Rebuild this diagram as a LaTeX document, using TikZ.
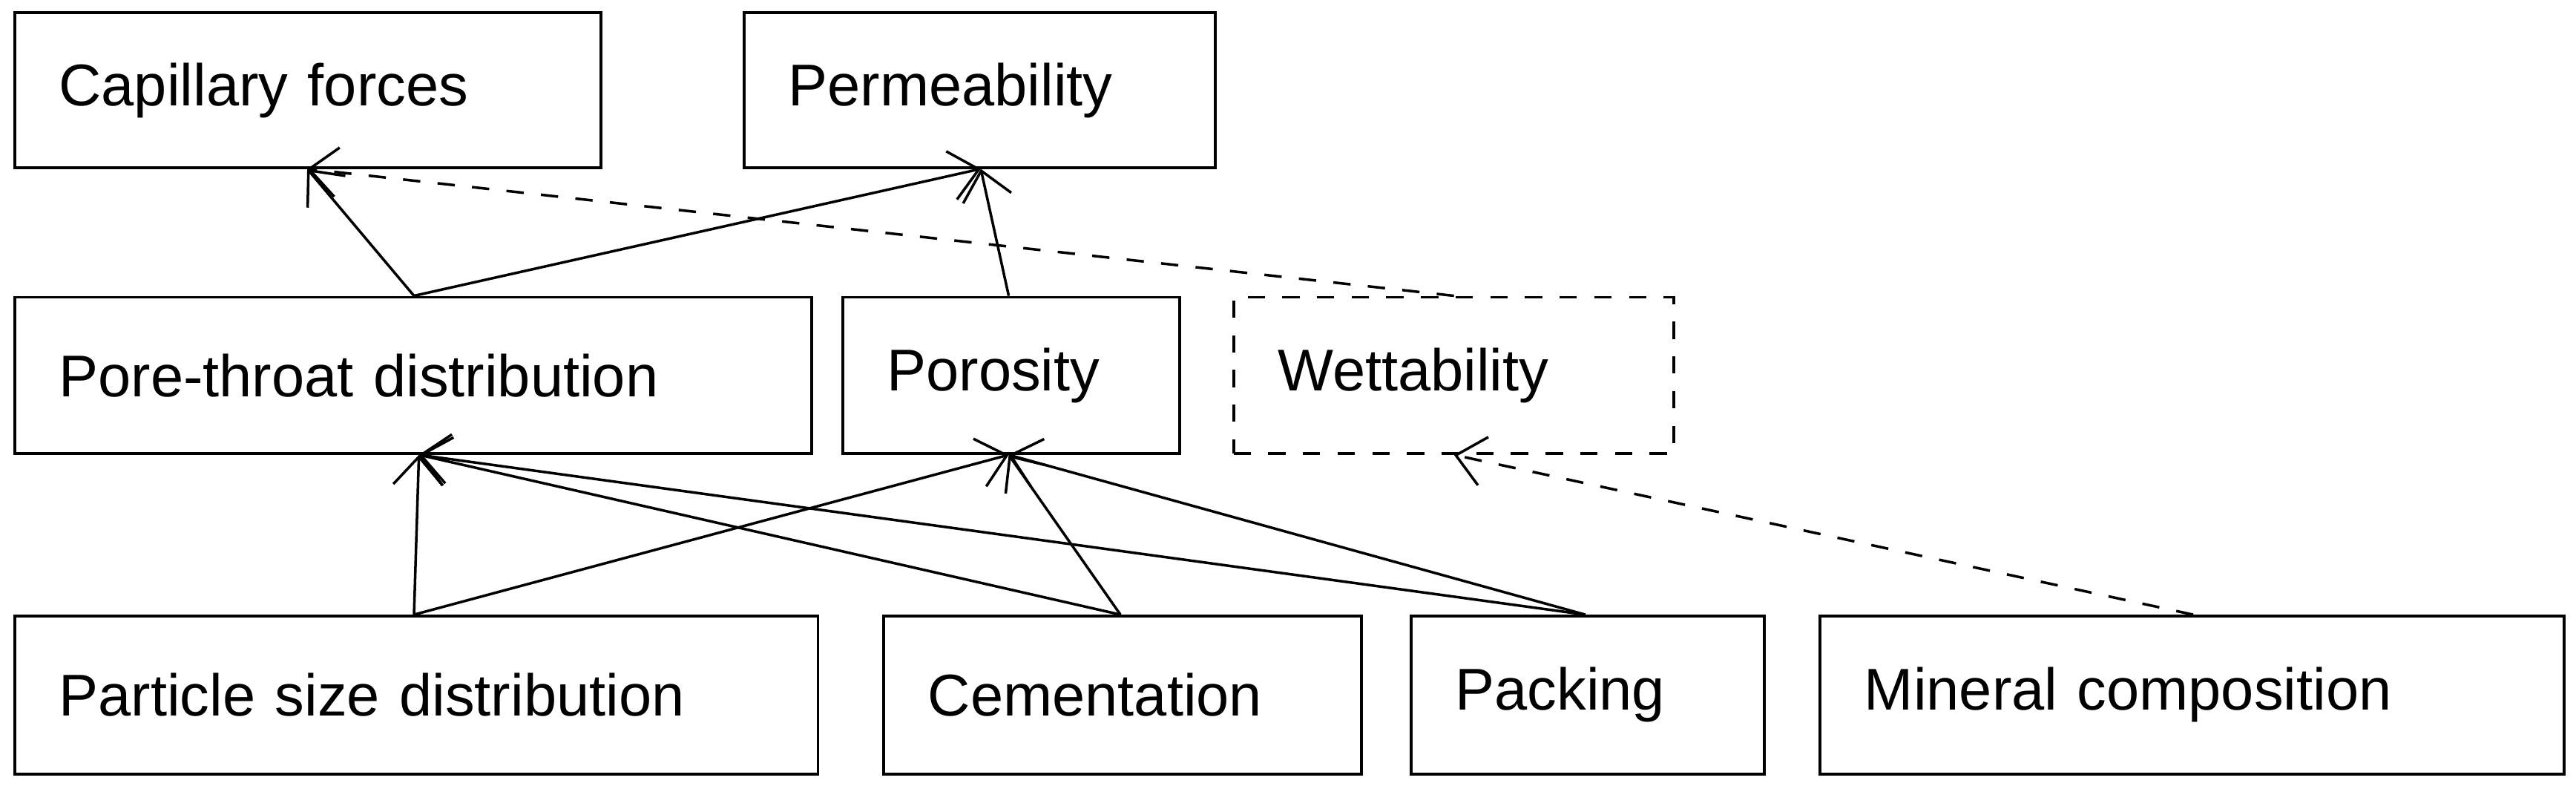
\documentclass[tikz,border=0pt]{standalone}
\usepackage{fontspec}
\setmainfont{Liberation Sans}
\usetikzlibrary{arrows.meta}
\begin{document}
\begin{tikzpicture}[x=0.01cm,y=-0.01cm,
  box/.style={draw,line width=0.5pt,anchor=north west,minimum height=0.94cm,inner xsep=0.27cm,align=left,font=\fontsize{10.2}{12}\selectfont},
  dbox/.style={box,dashed},
  arr/.style={line width=0.45pt,-{Straight Barb[length=0.17cm,width=0.3cm]}},
  darr/.style={arr,dashed}]
\useasboundingbox (0,0) rectangle (1568,480);
\newcommand{\bx}[7]{\node[#1,text width={(#5-#3)*0.01cm-0.54cm},minimum height={(#6-#4)*0.01cm}] (#2) at (#3,#4) {#7};}
\bx{box}{cap}{8}{7}{365}{101}{Capillary forces}
\bx{box}{perm}{452}{7}{739}{101}{Permeability}
\bx{box}{pore}{8}{180}{493}{275}{Pore-throat distribution}
\bx{box}{poro}{512}{180}{717}{275}{Porosity}
\bx{dbox}{wet}{750}{180}{1018}{275}{Wettability}
\bx{box}{part}{8}{374}{497}{470}{Particle size distribution}
\bx{box}{cem}{537}{374}{828}{470}{Cementation}
\bx{box}{pack}{858}{374}{1073}{470}{Packing}
\bx{box}{min}{1107}{374}{1560}{470}{Mineral composition}
\coordinate (capB) at (cap.south -| 187,0);
\coordinate (permB) at (perm.south -| 597,0);
\coordinate (poreT) at (pore.north -| 252,0);
\coordinate (poreB) at (pore.south -| 255,0);
\coordinate (poroT) at (poro.north -| 614,0);
\coordinate (poroB) at (poro.south -| 614,0);
\coordinate (wetT) at (wet.north -| 885,0);
\coordinate (wetB) at (wet.south -| 885,0);
\coordinate (partT) at (part.north -| 252,0);
\coordinate (cemT) at (cem.north -| 682,0);
\coordinate (packT) at (pack.north -| 965,0);
\coordinate (minT) at (min.north -| 1335,0);
\draw[arr] (poreT) -- (capB);
\draw[arr] (poreT) -- (permB);
\draw[arr] (poroT) -- (permB);
\draw[darr] (wetT) -- (capB);
\draw[arr] (partT) -- (poreB);
\draw[arr] (partT) -- (poroB);
\draw[arr] (cemT) -- (poreB);
\draw[arr] (cemT) -- (poroB);
\draw[arr] (packT) -- (poreB);
\draw[arr] (packT) -- (poroB);
\draw[darr] (minT) -- (wetB);
\end{tikzpicture}
\end{document}
